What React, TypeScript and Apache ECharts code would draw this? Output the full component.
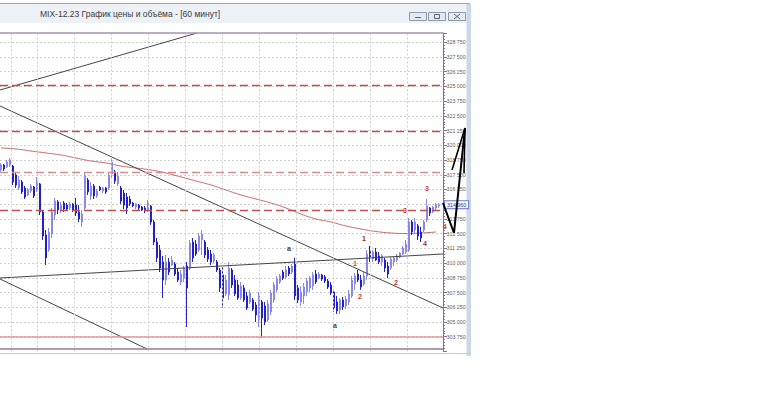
import React, { useEffect, useRef } from "react";
import * as echarts from "echarts";

const opens = [317910,318330,318160,318330,318240,317480,316380,316890,316380,315780,316120,316460,316120,316720,314340,312390,311110,312470,314080,315190,314510,315100,314930,314680,315020,314930,314340,313490,314680,317060,315700,316550,315700,316460,316120,316380,316380,317570,317740,316720,316380,315950,315610,315440,315100,314760,314930,314760,314680,314510,314850,313490,311790,311110,310090,308560,310090,309840,309920,309240,308390,308730,309750,309580,311790,311620,311110,311960,311790,311110,310770,310180,310090,309410,308990,307380,307290,309410,308560,308140,307040,307890,307210,306700,306870,306440,305170,306700,306360,305170,305850,306870,307720,308390,309240,308820,309580,309240,309920,307890,306700,307210,307550,307890,308050,309070,308730,308990,308820,308480,308140,307550,306700,306020,306870,306360,306700,307210,308220,309070,308560,308220,308900,311110,310350,310940,310600,310090,310260,309750,309580,310090,310260,310520,310770,310940,311110,313490,312810,313150,312640,312810,313660,314680,314340,314680,314850];
const closes = [318330,317990,318580,318750,316890,316630,317060,316040,315610,316210,316550,315700,316970,314340,312300,310440,312640,314340,315270,314510,314930,314590,314590,315020,314510,314250,313750,314170,317400,316040,316550,315700,316120,316210,316380,316040,317480,318580,316970,317400,315270,314930,314680,315020,314850,315020,314680,314510,314420,315100,313490,311790,310440,309580,308560,310090,309240,310260,309070,308560,309070,309580,307890,311710,310440,310770,312300,312470,310690,310350,310090,310690,309410,307890,307040,308560,309580,308140,307380,307040,308050,306870,306190,307460,306100,305590,307210,305340,305000,306530,307460,308140,308650,308900,308730,309410,309070,309750,307210,306870,307550,307970,308480,308730,308990,308390,309070,308650,308480,307970,307460,306190,305930,306870,306280,306950,307380,308560,308900,308560,307970,308900,310770,310430,310940,310260,310090,310600,309580,309070,310350,310430,310600,310860,311280,311620,313490,312640,313490,312300,312130,313490,314850,314250,314760,314930,314960];
const lows = [317740,317820,318070,318160,316630,316380,316210,315870,315440,315700,315950,315530,316040,314080,311960,309840,310940,312130,313660,314170,314250,314340,314420,314510,314340,314000,313490,313070,314510,315780,315360,315440,315530,316120,315950,315870,316210,317230,316720,316550,315020,314590,314170,314850,314760,314590,314510,314420,314250,314340,313240,311540,310090,309240,307040,308140,308990,309750,308900,308390,308140,308390,304570,309410,310090,310600,310940,310690,310430,310090,309840,310010,309240,307550,306190,307210,306870,307890,307210,306870,306870,306700,306020,306530,305930,305000,304570,303640,304740,305000,305590,306610,307550,308220,308560,308650,308900,309070,306870,306610,306360,306530,307210,307550,307720,308220,308650,308480,308310,307800,307290,305850,305680,305680,306020,306100,306440,307040,307720,308390,307720,308050,308560,310090,310090,310180,309920,309750,309240,308730,309410,309750,310090,310430,310690,310770,310940,312390,312470,311960,311790,312640,313490,314000,314250,314510,314680];
const highs = [318500,318410,318750,318920,318330,317740,317400,317060,316550,316380,316720,316550,317310,316800,314510,312810,312980,314680,315530,315360,315190,315270,315100,315190,315100,315530,314930,314510,317740,317230,316890,316720,316290,316550,316460,316460,317740,318920,317910,317740,316550,316210,315950,315700,315190,315100,315020,314850,314850,315360,314930,313660,312130,311540,310600,310690,310430,310600,310090,309580,309410,309750,310090,311960,312130,311960,312560,312810,311960,311370,311110,310860,310260,309580,309840,308990,310090,309580,308990,308560,308390,308140,307550,307720,307040,306700,307550,306870,306700,306870,307720,308390,308900,309070,309410,309750,309750,309920,310430,308140,308050,308310,308730,308900,309240,309410,309240,309070,308990,308650,308390,307720,307210,307040,307120,307210,307720,308900,309160,309410,308990,309240,311110,311450,311110,311280,310940,310770,310430,310090,310520,310600,310770,310940,311450,311960,313830,313660,313830,313320,313070,313660,315440,314760,314850,315100,315100];

// moving average, sampled every 5 bars
const maBars = [0,5,10,15,20,25,30,35,40,45,50,55,60,65,70,75,80,85,90,95,100,105,110,115,120,125,130,135,140,145];
const maValues = [319774,319689,319519,319349,319179,318925,318670,318500,318245,318076,317906,317651,317311,316972,316632,316207,315783,315443,315103,314679,314170,313745,313490,313150,312895,312683,312556,312514,312556,312641];

// horizontal levels
const dashedLevels = [325124, 321175, 317736, 314449];
const supportLevel = 303750;
const lastPrice = 314960;
const plotTop = 329540;
const plotBottom = 302705;

// trend lines: [x0, price0, x1, price1] in bar units / price
const trendLines = [
  [0, 324699, 65.67, 329540],
  [0, 323340, 147.67, 306187],
  [0, 308649, 49, 302705],
  [0, 308734, 147.67, 310773],
];
const arrowMain = [[147.67, 315103], [151.33, 312556], [155, 321472]];
const arrowHead = [[150.67, 317906], [155, 321472], [154.67, 317651]];

// annotations: [x, price, text, color]
const notes: [number, number, string, string][] = [
  [96.33, 311197, "a", "#404040"],
  [111.67, 304658, "a", "#404040"],
  [121.33, 312046, "1", "#a02a30"],
  [118.33, 309923, "1", "#c84848"],
  [120, 307121, "2", "#c04040"],
  [132, 308309, "2", "#b03838"],
  [135, 314424, "3", "#c03838"],
  [142.33, 316292, "3", "#c04040"],
  [141.67, 311622, "4", "#a03040"],
  [148.2, 313065, "4", "#d04040"],
];

const gridStep = 37 / 3;
const xMax = 147.667;

const fmt = (v: number) => {
  const s = Math.round(v).toString();
  return s.slice(0, 3) + " " + s.slice(3);
};

const chrome: any[] = [
  { type: "rect", shape: { x: 0, y: 3, width: 470, height: 20 }, style: { fill: "#edf1f6" }, z: 10 },
  { type: "line", shape: { x1: 0, y1: 3.5, x2: 470, y2: 3.5 }, style: { stroke: "#a0a6ac", lineWidth: 1 }, z: 10 },
  { type: "rect", shape: { x: 466.5, y: 4, width: 4.5, height: 352 }, style: { fill: "#cbd8e8" }, z: 10 },
  { type: "line", shape: { x1: 0, y1: 353.5, x2: 470, y2: 353.5 }, style: { stroke: "#c4ccd4", lineWidth: 1 }, z: 10 },
  {
    type: "text",
    x: 40,
    y: 14,
    style: {
      text: "MIX-12.23 График цены и объёма - [60 минут]",
      fontSize: 8.5,
      fontFamily: "Liberation Sans",
      fill: "#3a3a3a",
      verticalAlign: "middle",
    },
    z: 11,
  },
  { type: "rect", shape: { x: 409.5, y: 12.5, width: 17, height: 8 }, style: { fill: "#e4eaf1", stroke: "#8e9aa8", lineWidth: 1 }, z: 11 },
  { type: "rect", shape: { x: 428.5, y: 12.5, width: 17, height: 8 }, style: { fill: "#e4eaf1", stroke: "#8e9aa8", lineWidth: 1 }, z: 11 },
  { type: "rect", shape: { x: 448.5, y: 12.5, width: 17, height: 8 }, style: { fill: "#e4eaf1", stroke: "#8e9aa8", lineWidth: 1 }, z: 11 },
  { type: "line", shape: { x1: 415, y1: 17.5, x2: 421, y2: 17.5 }, style: { stroke: "#5a6470", lineWidth: 1 }, z: 12 },
  { type: "rect", shape: { x: 434.5, y: 14.5, width: 5, height: 4 }, style: { fill: "none", stroke: "#5a6470", lineWidth: 1 }, z: 12 },
  { type: "line", shape: { x1: 454, y1: 14, x2: 460, y2: 19 }, style: { stroke: "#5a6470", lineWidth: 1 }, z: 12 },
  { type: "line", shape: { x1: 460, y1: 14, x2: 454, y2: 19 }, style: { stroke: "#5a6470", lineWidth: 1 }, z: 12 },
];

export default function App() {
  const ref = useRef<HTMLDivElement>(null);
  useEffect(() => {
    const chart = echarts.init(ref.current!, null, { renderer: "svg" });
    const candles = opens.map((o, i) => [i + 1 / 3, o, closes[i], lows[i], highs[i]]);
    const vLines: number[] = [11 / 3];
    for (let k = 1; k * gridStep < xMax - 0.5; k++) vLines.push(k * gridStep);
    const dotted = { color: "#cfcfcf", type: [2, 2], width: 1 };
    const option: any = {
      animation: false,
      backgroundColor: "#ffffff",
      grid: { left: 0, top: 33, width: 443, height: 318.4, containLabel: false },
      xAxis: {
        type: "value",
        min: 0,
        max: xMax,
        axisLine: { show: false, onZero: false },
        axisTick: { show: false },
        axisLabel: { show: false },
        splitLine: { show: false },
      },
      yAxis: {
        type: "value",
        position: "right",
        min: 302500,
        max: plotTop,
        interval: 1250,
        axisLine: { show: true, onZero: false, lineStyle: { color: "#8a6f9a", width: 1 } },
        axisTick: { show: true, length: 4, lineStyle: { color: "#8a6f9a" } },
        minorTick: { show: true, splitNumber: 5, length: 2, lineStyle: { color: "#8a6f9a" } },
        axisLabel: {
          show: true,
          showMinLabel: false,
          showMaxLabel: false,
          margin: 3.5,
          fontSize: 5.3,
          fontFamily: "Liberation Sans",
          color: "#5e5e68",
          formatter: (v: number) => fmt(v),
        },
        splitLine: { show: true, showMinLine: false, showMaxLine: false, lineStyle: dotted },
      },
      series: [
        {
          type: "candlestick",
          data: candles,
          encode: { x: 0, y: [1, 2, 3, 4] },
          barWidth: 2.4,
          itemStyle: {
            color: "#8a8ae4",
            color0: "#2020c4",
            borderColor: "#8a8ae4",
            borderColor0: "#2020c4",
            borderWidth: 1,
          },
          markLine: {
            silent: true,
            symbol: "none",
            label: { show: false },
            data: [
              ...vLines.map((x) => ({ xAxis: x, lineStyle: dotted })),
              ...dashedLevels.map((v, k) => ({
                yAxis: v,
                lineStyle: { color: k === 2 ? "#d88e8e" : "#c0504d", type: [8, 4], width: 1.3 },
              })),
              { yAxis: supportLevel, lineStyle: { color: "#e89494", type: "solid", width: 1.5 } },
              { yAxis: plotTop, lineStyle: { color: "#a890b0", type: "solid", width: 1.5 } },
              { yAxis: plotBottom, lineStyle: { color: "#8c7c9c", type: "solid", width: 1.5 } },
            ],
          },
          z: 3,
        },
        {
          type: "line",
          data: maBars.map((b, i) => [b + 1 / 3, maValues[i]]),
          smooth: true,
          symbol: "none",
          lineStyle: { color: "#c46a6a", width: 1 },
          z: 2,
        },
        ...trendLines.map((t) => ({
          type: "line",
          data: [[t[0], t[1]], [t[2], t[3]]],
          symbol: "none",
          lineStyle: { color: "#454545", width: 1 },
          z: 4,
        })),
      ],
      graphic: chrome,
    };
    chart.setOption(option);

    const px = (p: number[]) => chart.convertToPixel({ gridIndex: 0 }, p) as number[];
    const extra: any[] = [
      {
        type: "polyline",
        shape: { points: arrowMain.map(px) },
        style: { stroke: "#000000", lineWidth: 2, fill: null },
        z: 20,
      },
      {
        type: "polyline",
        shape: { points: arrowHead.map(px) },
        style: { stroke: "#000000", lineWidth: 1.6, fill: null },
        z: 20,
      },
      ...notes.map((n) => {
        const [x, y] = px([n[0], n[1]]);
        return {
          type: "text",
          x,
          y,
          style: {
            text: n[2],
            fill: n[3],
            fontSize: 7,
            fontWeight: "bold",
            fontFamily: "Liberation Sans",
            align: "center",
            verticalAlign: "middle",
          },
          z: 21,
        };
      }),
    ];
    const [bx, by] = px([xMax, lastPrice]);
    extra.push({
      type: "text",
      x: bx + 2,
      y: by,
      style: {
        text: fmt(lastPrice),
        fontSize: 5.3,
        fontFamily: "Liberation Sans",
        fill: "#2a3aa0",
        backgroundColor: "#f4f6ff",
        borderColor: "#6a78c8",
        borderWidth: 1,
        padding: [1, 2, 1, 2],
        verticalAlign: "middle",
      },
      z: 19,
    });
    chart.setOption({ graphic: [...chrome, ...extra] });
    return () => chart.dispose();
  }, []);
  return (
    <div
      ref={ref}
      style={{ position: "absolute", left: 0, top: 0, width: 758, height: 411, background: "#ffffff" }}
    />
  );
}
